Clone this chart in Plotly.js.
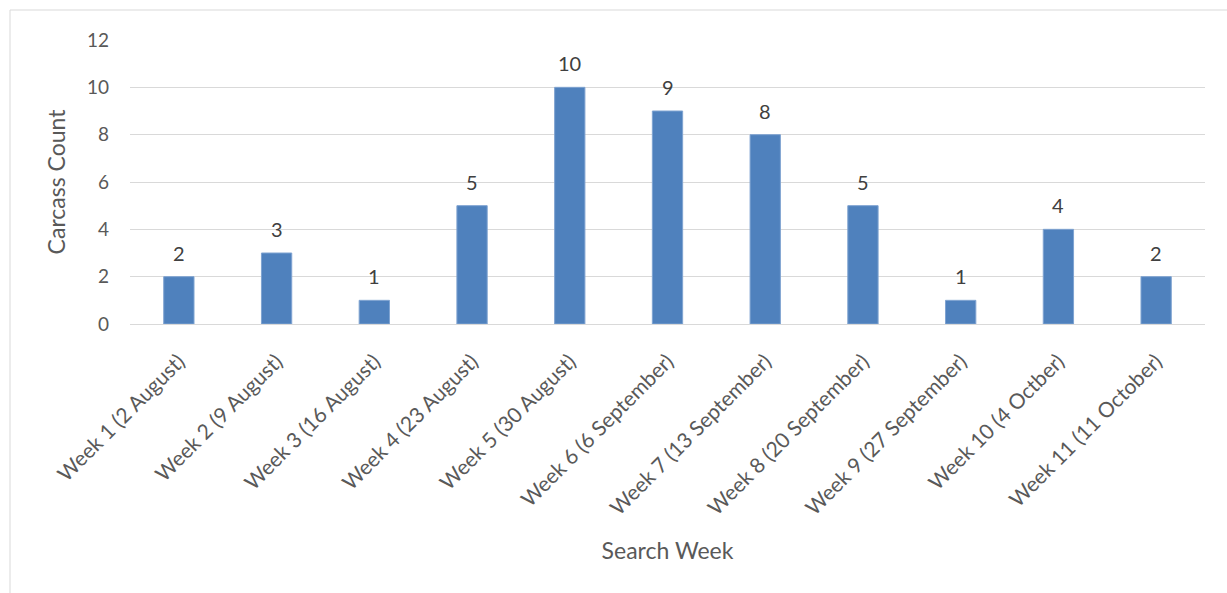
<!DOCTYPE html>
<html>
<head>
<meta charset="utf-8">
<script src="https://cdn.plot.ly/plotly-3.0.1.min.js"></script>
<style>html,body{margin:0;padding:0;background:#fff;}#chart{width:1227px;height:593px;}</style>
</head>
<body>
<div id="chart"></div>
<script>
var weeks = ["Week 1 (2 August)", "Week 2 (9 August)", "Week 3 (16 August)", "Week 4 (23 August)", "Week 5 (30 August)", "Week 6 (6 September)", "Week 7 (13 September)", "Week 8 (20 September)", "Week 9 (27 September)", "Week 10 (4 Octber)", "Week 11 (11 October)"];
var counts = [2, 3, 1, 5, 10, 9, 8, 5, 1, 4, 2];
var yTicks = [0, 2, 4, 6, 8, 10, 12];

var FONT = "Lato, 'Open Sans', sans-serif";

var annotations = weeks.map(function (w, i) {
  return {
    x: w, y: counts[i], xref: 'x', yref: 'y',
    text: String(counts[i]), showarrow: false,
    yanchor: 'bottom', yshift: 10,
    font: {family: FONT, size: 20, color: '#404040'}
  };
});

var trace = {
  type: 'bar',
  x: weeks,
  y: counts,
  marker: {color: '#4F81BD', line: {color: '#7FA3D1', width: 1}},
  hoverinfo: 'x+y'
};

var layout = {
  width: 1227, height: 593,
  paper_bgcolor: '#ffffff', plot_bgcolor: '#ffffff',
  margin: {l: 130, r: 22, t: 40, b: 269},
  bargap: 0.69,
  showlegend: false,
  font: {family: FONT, color: '#595959'},
  xaxis: {
    type: 'category',
    tickangle: -45,
    tickfont: {family: FONT, size: 21, color: '#595959'},
    ticklabelstandoff: 20,
    showgrid: false, showline: false, ticks: '',
    automargin: false,
    title: {text: 'Search Week', font: {family: FONT, size: 23, color: '#595959'}, standoff: 24}
  },
  yaxis: {
    range: [0, 12],
    tickvals: yTicks,
    ticktext: yTicks.map(String),
    tickfont: {family: FONT, size: 19, color: '#595959'},
    ticklabelstandoff: 20,
    showgrid: true, gridcolor: '#D9D9D9', gridwidth: 1,
    zeroline: true, zerolinecolor: '#D9D9D9', zerolinewidth: 1,
    showline: false, ticks: '',
    automargin: false,
    title: {text: 'Carcass Count', font: {family: FONT, size: 23, color: '#595959'}, standoff: 14}
  },
  annotations: annotations,
  shapes: [{
    type: 'rect', xref: 'paper', yref: 'paper',
    x0: (10 - 130) / 1075, x1: (1240 - 130) / 1075,
    y0: (324 - 610) / 284, y1: (324 - 10) / 284,
    line: {color: '#D9D9D9', width: 1}, fillcolor: 'rgba(0,0,0,0)', layer: 'below'
  }]
};

Plotly.newPlot('chart', [trace], layout, {displayModeBar: false, staticPlot: true});
</script>
</body>
</html>
